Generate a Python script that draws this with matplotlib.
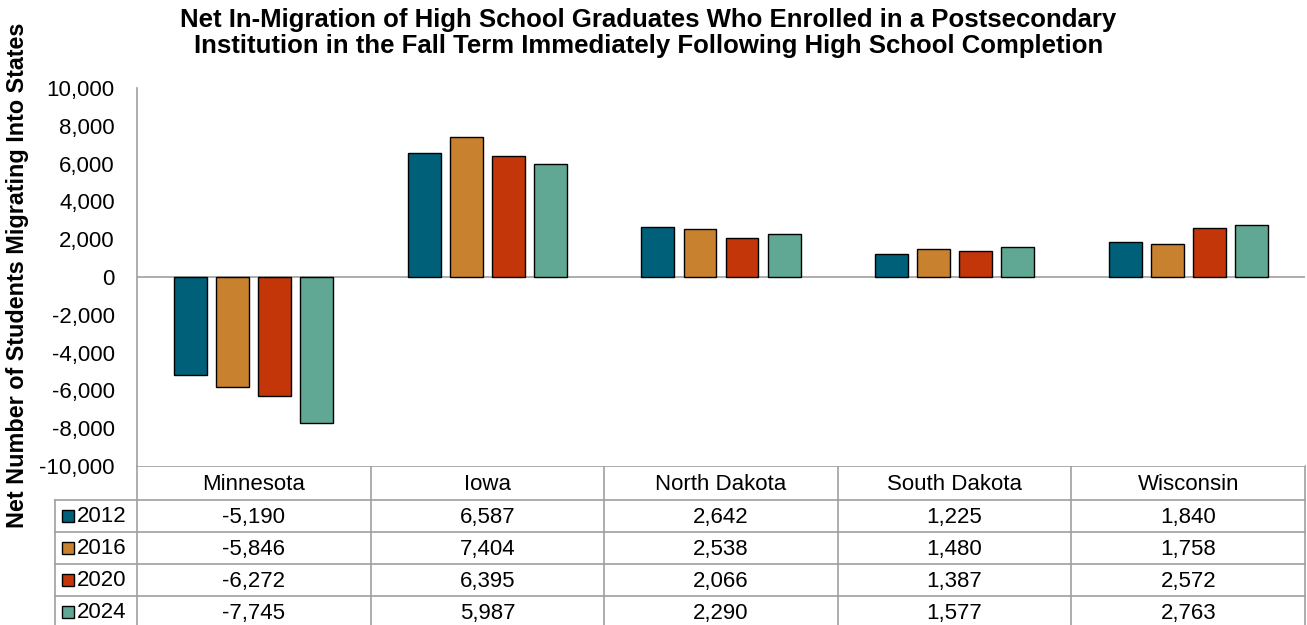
import matplotlib
import matplotlib.pyplot as plt
import numpy as np
from matplotlib.patches import Rectangle

matplotlib.use("Agg")

plt.rcParams["font.family"] = ["Liberation Sans", "DejaVu Sans"]

states = ["Minnesota", "Iowa", "North Dakota", "South Dakota", "Wisconsin"]
years = ["2012", "2016", "2020", "2024"]
v2012 = [-5190, 6587, 2642, 1225, 1840]
v2016 = [-5846, 7404, 2538, 1480, 1758]
v2020 = [-6272, 6395, 2066, 1387, 2572]
v2024 = [-7745, 5987, 2290, 1577, 2763]
series = [v2012, v2016, v2020, v2024]
colors = ["#00607A", "#C8812F", "#C2360A", "#60A893"]

yticks = np.arange(-10000, 10001, 2000)

W, H = 1307, 625
fig = plt.figure(figsize=(W / 100, H / 100), dpi=100)

# pixel layout
ax_l, ax_r, ax_t, ax_b = 137, 1305, 88, 466
ax = fig.add_axes([ax_l / W, 1 - ax_b / H, (ax_r - ax_l) / W, (ax_b - ax_t) / H])

n = len(states)
x = np.arange(n)
width = 0.141
step = 0.18
for i, (vals, c) in enumerate(zip(series, colors)):
    ax.bar(x + 0.5 + (i - 1.5) * step, vals, width, color=c, edgecolor="black", linewidth=1.0, zorder=3)

ax.set_xlim(0, n)
ax.set_ylim(-10000, 10000)
ax.set_yticks(yticks)
ax.set_yticklabels([f"{v:,}" for v in yticks], fontsize=16)
ax.tick_params(axis="y", length=0, pad=16)
ax.set_xticks([])
ax.axhline(0, color="#A0A0A0", linewidth=1.2, zorder=2)
for s in ["top", "right", "bottom"]:
    ax.spines[s].set_visible(False)
ax.spines["left"].set_color("#A0A0A0")
ax.spines["left"].set_linewidth(1.2)

# table below the plot, drawn in pixel coordinates
tab = fig.add_axes([0, 0, 1, 1], zorder=-1)
tab.set_xlim(0, W)
tab.set_ylim(H, 0)
tab.axis("off")

gray = "#A0A0A0"
col_w = (ax_r - ax_l) / n
rows = [466, 500, 532, 564, 596, 628]
leg_l = 55
tab.plot([ax_l, ax_r], [rows[0], rows[0]], color=gray, lw=1.2)
for r in rows[1:]:
    tab.plot([leg_l, ax_r], [r, r], color=gray, lw=1.2)
tab.plot([leg_l, leg_l], [rows[1], H], color=gray, lw=1.2)
for j in range(n + 1):
    xv = ax_l + j * col_w
    tab.plot([xv, xv], [rows[0], H], color=gray, lw=1.2)

for j, s in enumerate(states):
    tab.text(ax_l + (j + 0.5) * col_w, (rows[0] + rows[1]) / 2 + 1, s,
             ha="center", va="center", fontsize=16)

for i, (yr, vals, c) in enumerate(zip(years, series, colors)):
    yc = (rows[i + 1] + rows[i + 2]) / 2
    tab.add_patch(Rectangle((62, yc - 6), 12, 12, facecolor=c, edgecolor="black", lw=1.0))
    tab.text(77, yc + 1, yr, ha="left", va="center", fontsize=16)
    for j, v in enumerate(vals):
        tab.text(ax_l + (j + 0.5) * col_w, yc + 1, f"{v:,}", ha="center", va="center", fontsize=16)

fig.text(0.496, 1 - 33 / H,
         "Net In-Migration of High School Graduates Who Enrolled in a Postsecondary\n"
         "Institution in the Fall Term Immediately Following High School Completion",
         ha="center", va="center", fontsize=18.5, fontweight="bold", linespacing=1.08)

fig.text(18 / W, 1 - 275 / H, "Net Number of Students Migrating Into States",
         rotation=90, ha="center", va="center", fontsize=16.8, fontweight="bold")

fig.savefig("out.png", dpi=100)
